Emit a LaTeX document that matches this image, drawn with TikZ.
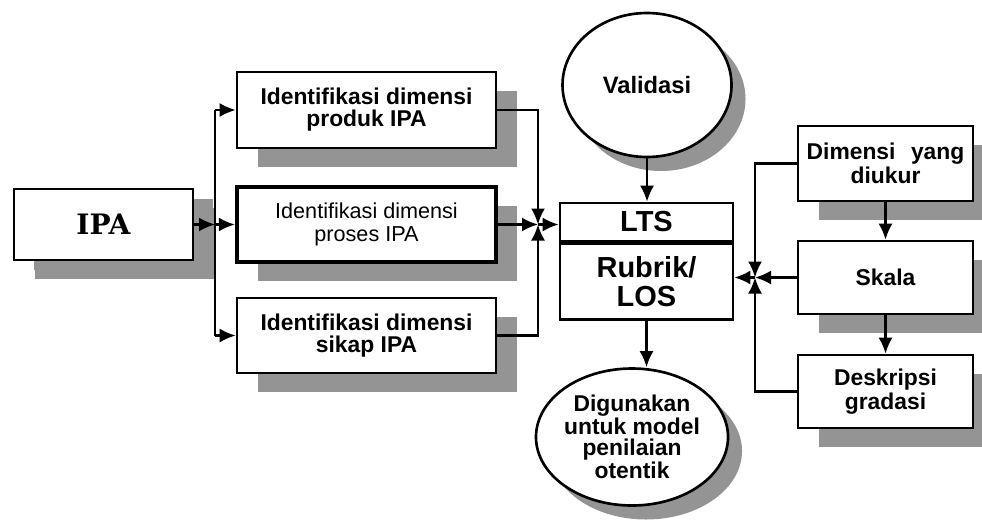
\documentclass[tikz,border=0pt]{standalone}
\usepackage{fontspec}
\setmainfont{Liberation Sans}
\newfontfamily\ipafont{DejaVu Serif}
\usepackage{tikz}
\usetikzlibrary{calc}
\usetikzlibrary{positioning}
\usetikzlibrary{arrows.meta}
\usetikzlibrary{shapes.geometric}
\usetikzlibrary{shadows}

\tikzset{
  shade box/.style={drop shadow={shadow xshift=0.42cm,shadow yshift=-0.38cm,fill=black!42,opacity=1}},
  shade round/.style={drop shadow={shadow xshift=0.28cm,shadow yshift=-0.28cm,fill=black!42,opacity=1}},
  dimbox/.style={draw,line width=1.5pt,fill=white,align=center,shade box,
    font=\fontsize{13}{12.5}\selectfont\bfseries},
  roundbox/.style={ellipse,draw,line width=1.5pt,fill=white,align=center,shade round,inner sep=0pt,
    font=\fontsize{13}{12}\selectfont\bfseries},
  ltsbox/.style={draw,line width=1.5pt,fill=white,align=center,minimum width=3.46cm,
    font=\fontsize{16.5}{17}\selectfont\bfseries},
  link/.style={line width=1.3pt},
  arr/.style={line width=1.3pt,-{Latex[length=3.2mm,width=2.8mm]}}
}

\begin{document}
\begin{tikzpicture}
\useasboundingbox (0,0) rectangle (19.64,10.38);

% left part
\node[dimbox,minimum width=3.58cm,minimum height=1.42cm,
  drop shadow={shadow xshift=0.4cm,shadow yshift=-0.2cm,fill=black!42,opacity=1},
  font=\ipafont\fontsize{16}{16}\selectfont\bfseries] (ipa) at (2.07,5.89) {IPA};
\node[dimbox,minimum width=5.18cm,minimum height=1.52cm] (prod) at (7.33,8.18) {Identifikasi dimensi\\produk IPA};
\node[dimbox,minimum width=5.18cm,minimum height=1.5cm,line width=2.4pt,
  font=\fontsize{12.3}{13}\selectfont] (proses) at (7.33,5.89) {Identifikasi dimensi\\proses IPA};
\node[dimbox,minimum width=5.18cm,minimum height=1.5cm] (sikap) at (7.33,3.67) {Identifikasi dimensi\\sikap IPA};

% middle
\node[roundbox,minimum width=3.38cm,minimum height=2.88cm,font=\fontsize{13.5}{14}\selectfont\bfseries] (val) at (12.94,8.68) {Validasi};
\node[ltsbox,minimum height=0.76cm] (lts) at (12.93,5.94) {LTS};
\node[ltsbox,minimum height=1.52cm,anchor=north] (rub) at (lts.south) {Rubrik/\\LOS};
\node[roundbox,minimum width=3.14cm,minimum height=2.74cm] (dig) at (12.64,1.64) {Digunakan\\untuk model\\penilaian\\otentik};

% right part
\node[dimbox,minimum width=3.5cm,minimum height=1.5cm,font=\fontsize{13}{13.5}\selectfont\bfseries] (dim) at (17.71,7.11) {Dimensi\hspace{0.4em} yang\\diukur};
\node[dimbox,minimum width=3.5cm,minimum height=1.46cm,font=\fontsize{13}{13.5}\selectfont\bfseries] (skala) at (17.71,4.83) {Skala};
\node[dimbox,minimum width=3.5cm,minimum height=1.46cm,font=\fontsize{13}{13.5}\selectfont\bfseries] (desk) at (17.71,2.55) {Deskripsi\\gradasi};

\coordinate (jx) at (4.3,5.89);
\coordinate (jl) at (10.76,5.89);
\coordinate (jr) at (15.1,4.83);

\draw[arr] (ipa.east) -- (jx);
\draw[link] (jx |- prod.west) -- (jx |- sikap.west);
\foreach \n in {prod,proses,sikap}
{
	\draw[arr] (jx |- \n.west) -- (\n.west);
}

\draw[arr] (prod.east) -| (jl);
\draw[arr] (sikap.east) -| (jl);
\draw[arr] (proses.east) -- (jl);
\draw[arr] (jl) -- (jl -| lts.west);

\draw[arr] (val.south) -- (val.south |- lts.north);
\draw[arr] (rub.south) -- (rub.south |- dig.north);

\draw[arr] (dim) -- (skala);
\draw[arr] (skala) -- (desk);
\draw[arr] (dim.west) -| (jr);
\draw[arr] (desk.west) -| (jr);
\draw[arr] (skala.west) -- (jr);
\draw[arr] (jr) -- (jr -| rub.east);
\end{tikzpicture}
\end{document}
